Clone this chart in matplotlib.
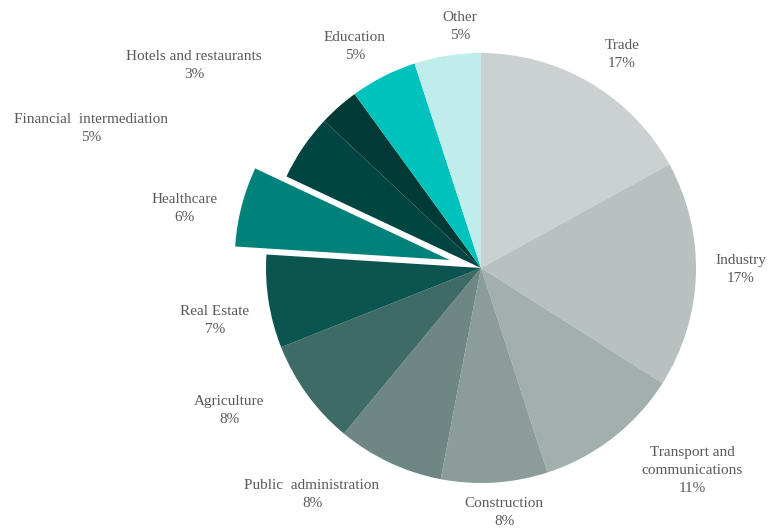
import matplotlib.pyplot as plt
import numpy as np

# sector shares, clockwise from 12 o'clock
sectors = ["Trade", "Industry", "Transport and\ncommunications", "Construction",
           "Public  administration", "Agriculture", "Real Estate", "Healthcare",
           "Financial  intermediation", "Hotels and restaurants", "Education", "Other"]
shares = [17, 17, 11, 8, 8, 8, 7, 6, 5, 3, 5, 5]
colors = ["#cbd1d0", "#b8c1bf", "#a3afac", "#8c9c99", "#6e8785", "#3f6b66",
          "#0b5450", "#00827b", "#004542", "#003a36", "#00c2bd", "#beedec"]
explode = [0, 0, 0, 0, 0, 0, 0, 0.15, 0, 0, 0, 0]

# label centres, in pie radii from the pie centre
label_pos = [(0.655, 0.995), (1.209, -0.009), (0.981, -0.94), (0.107, -1.135),
             (-0.786, -1.055), (-1.172, -0.665), (-1.237, -0.242), (-1.377, 0.279),
             (-1.814, 0.647), (-1.335, 0.940), (-0.586, 1.028), (-0.098, 1.121)]

W, H = 770, 531
cx, cy, R = 481, 268, 215

fig = plt.figure(figsize=(W / 100, H / 100), dpi=100)
ax = fig.add_axes([0, 0, 1, 1])
ax.pie(shares, colors=colors, explode=explode, startangle=90, counterclock=False,
       radius=1, wedgeprops=dict(linewidth=0))
ax.set_xlim(-cx / R, (W - cx) / R)
ax.set_ylim(-(H - cy) / R, cy / R)
ax.axis("off")

for name, val, (x, y) in zip(sectors, shares, label_pos):
    ax.text(x, y, f"{name}\n{val}%", ha="center", va="center", fontsize=11,
            family="Liberation Serif", color="#595959", linespacing=1.5)

fig.savefig("out.png", dpi=100)
